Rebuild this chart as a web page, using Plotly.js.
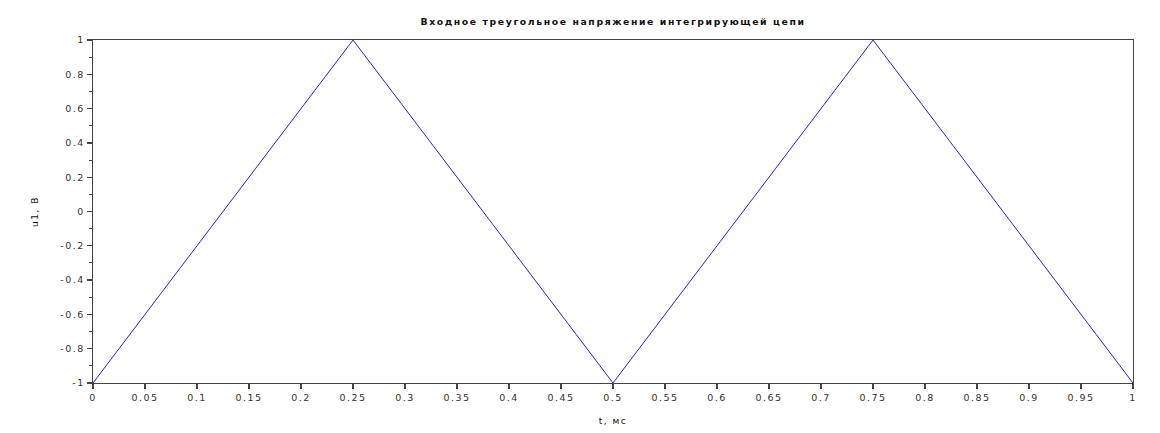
<!DOCTYPE html>
<html><head><meta charset="utf-8">
<script src="https://cdn.plot.ly/plotly-3.0.1.min.js"></script>
<style>
body{margin:0;background:#fff}#c{width:1160px;height:433px}
#c .xtick text, #c .ytick text{letter-spacing:1.5px}
#c .gtitle{letter-spacing:1.6px}
#c .xtitle, #c .ytitle{letter-spacing:1.5px}
</style>
</head><body><div id="c"></div>
<script>
const tValues = [0, 0.25, 0.5, 0.75, 1];
const u1Values = [-1, 1, -1, 1, -1];
const titleText = "Входное треугольное напряжение интегрирующей цепи";
const xTitle = "t, мс";
const yTitle = "u1, В";
const xTickVals = [0,0.05,0.1,0.15,0.2,0.25,0.3,0.35,0.4,0.45,0.5,0.55,0.6,0.65,0.7,0.75,0.8,0.85,0.9,0.95,1];
const xTickText = ["0","0.05","0.1","0.15","0.2","0.25","0.3","0.35","0.4","0.45","0.5","0.55","0.6","0.65","0.7","0.75","0.8","0.85","0.9","0.95","1"];
const yTickVals = [-1,-0.8,-0.6,-0.4,-0.2,0,0.2,0.4,0.6,0.8,1];
const yTickText = ["-1","-0.8","-0.6","-0.4","-0.2","0","0.2","0.4","0.6","0.8","1"];

const fam = 'DejaVu Sans, Liberation Sans, Arial';
const axCommon = {
  showgrid:false, zeroline:false, showline:true, mirror:true,
  linecolor:'#444', linewidth:1.3, ticks:'outside', ticklen:5, tickwidth:1.3,
  tickcolor:'#444', tickfont:{family:fam, size:9.5, color:'#333'}
};
Plotly.newPlot('c', [{
  x:tValues, y:u1Values, type:'scatter', mode:'lines',
  line:{color:'#2020ff', width:1}
}], {
  width:1160, height:433,
  margin:{l:93, r:27, t:40, b:50},
  paper_bgcolor:'#fff', plot_bgcolor:'#fff',
  title:{text:titleText, xref:'paper', x:0.5, xanchor:'center', y:0.95, yanchor:'middle',
    font:{family:fam, size:9.3, weight:'bold', color:'#111'}},
  xaxis:Object.assign({}, axCommon, {range:[0,1], tickmode:'array', tickvals:xTickVals, ticktext:xTickText,
    title:{text:xTitle, standoff:16, font:{family:fam, size:9, color:'#111'}}}),
  yaxis:Object.assign({}, axCommon, {range:[-1,1], tickmode:'array', tickvals:yTickVals, ticktext:yTickText,
    minor:{dtick:0.1, tick0:-1, ticks:'outside', ticklen:3, tickcolor:'#444', tickwidth:1},
    title:{text:yTitle, standoff:26, font:{family:fam, size:9, color:'#111'}}}),
  showlegend:false
}, {displayModeBar:false, staticPlot:true});
</script></body></html>
